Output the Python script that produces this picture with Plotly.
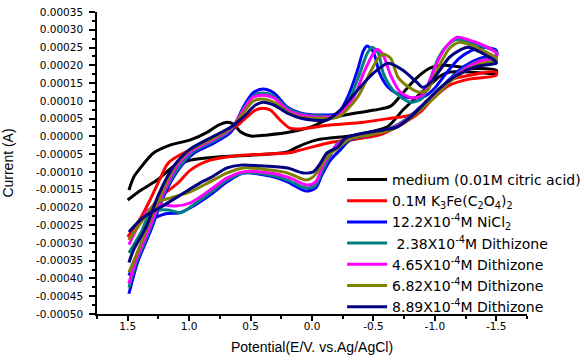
import plotly.graph_objects as go

# Potential (V) and current (in units of 1e-4 A), forward (up) and reverse (dn) sweeps
black_up_E = [1.49,1.45,1.39,1.29,1.15,0.99,0.85,0.76,0.69,0.64,0.58,0.50,0.36,0.18,-0.01,-0.15,-0.31,-0.51,-0.64,-0.74,-0.85,-0.96,-1.08,-1.28,-1.50]
black_up_I = [-1.51,-1.14,-0.86,-0.47,-0.24,-0.10,0.12,0.32,0.40,0.35,0.12,0.01,0.04,0.12,0.29,0.51,0.63,0.74,0.85,1.22,1.64,1.92,2.00,1.92,1.86]
black_dn_E = [-1.50,-1.28,-1.12,-1.04,-0.96,-0.85,-0.74,-0.61,-0.42,-0.31,-0.04,0.12,0.20,0.50,0.77,0.99,1.13,1.26,1.39,1.50]
black_dn_I = [1.78,1.81,1.81,1.69,1.44,1.10,0.74,0.26,0.09,0.01,-0.10,-0.30,-0.44,-0.53,-0.58,-0.67,-0.86,-1.23,-1.51,-1.79]

red_up_E = [1.50,1.39,1.31,1.23,1.17,1.03,0.83,0.66,0.54,0.46,0.40,0.34,0.26,0.18,0.10,-0.15,-0.42,-0.64,-0.80,-0.90,-1.02,-1.12,-1.28,-1.50]
red_up_I = [-2.83,-2.27,-1.73,-1.14,-0.75,-0.44,-0.19,0.15,0.51,0.74,0.79,0.74,0.46,0.23,0.21,0.32,0.40,0.51,0.60,0.82,1.24,1.58,1.72,1.81]
red_dn_E = [-1.50,-1.28,-1.12,-0.98,-0.88,-0.72,-0.55,-0.31,-0.17,0.09,0.20,0.58,0.83,0.99,1.09,1.23,1.35,1.49]
red_dn_I = [1.72,1.61,1.44,1.05,0.68,0.32,0.04,-0.10,-0.16,-0.38,-0.47,-0.53,-0.67,-0.95,-1.31,-1.70,-2.21,-2.91]

blue_up_E = [1.49,1.42,1.31,1.21,1.09,0.96,0.80,0.66,0.56,0.48,0.40,0.31,0.20,0.09,-0.07,-0.21,-0.29,-0.37,-0.42,-0.45,-0.50,-0.55,-0.62,-0.72,-0.82,-0.92,-1.00,-1.10,-1.20,-1.30,-1.38,-1.50]
blue_up_I = [-4.43,-3.55,-2.63,-1.70,-0.95,-0.47,-0.19,0.12,0.82,1.22,1.33,1.22,0.82,0.65,0.60,0.65,1.10,1.86,2.42,2.54,2.37,1.78,1.38,1.16,1.08,1.13,1.36,1.81,2.20,2.42,2.51,2.42]
blue_dn_E = [-1.50,-1.37,-1.24,-1.12,-1.00,-0.88,-0.76,-0.64,-0.47,-0.31,-0.23,-0.15,-0.08,-0.03,0.05,0.20,0.34,0.56,0.69,0.83,0.99,1.08,1.19,1.30,1.39,1.49]
blue_dn_I = [2.28,2.20,1.97,1.61,1.19,0.82,0.46,0.21,0.04,-0.10,-0.38,-0.67,-1.09,-1.45,-1.54,-1.28,-1.12,-1.03,-1.28,-1.65,-2.01,-2.15,-2.18,-2.35,-3.05,-3.92]

teal_up_E = [1.49,1.43,1.32,1.22,1.10,0.97,0.80,0.66,0.56,0.48,0.40,0.31,0.20,0.09,-0.07,-0.21,-0.31,-0.39,-0.45,-0.49,-0.54,-0.58,-0.66,-0.80,-0.90,-0.96,-1.02,-1.08,-1.18,-1.28,-1.41,-1.50]
teal_up_I = [-4.26,-3.55,-2.63,-1.70,-0.95,-0.44,-0.13,0.18,0.77,1.13,1.22,1.13,0.79,0.63,0.57,0.60,1.10,1.78,2.34,2.51,2.34,1.78,1.30,0.96,1.08,1.58,2.14,2.48,2.73,2.65,2.51,2.37]
teal_dn_E = [-1.50,-1.37,-1.24,-1.12,-1.00,-0.88,-0.76,-0.64,-0.47,-0.31,-0.21,-0.15,-0.08,-0.03,0.05,0.20,0.34,0.56,0.69,0.83,0.99,1.07,1.17,1.31,1.39,1.49]
teal_dn_I = [2.26,2.14,1.92,1.58,1.16,0.79,0.46,0.23,0.06,-0.05,-0.19,-0.53,-1.00,-1.37,-1.45,-1.23,-1.09,-1.03,-1.23,-1.59,-1.99,-2.15,-2.07,-2.13,-2.69,-3.28]

mag_up_E = [1.49,1.44,1.33,1.22,1.11,0.98,0.81,0.66,0.56,0.48,0.40,0.31,0.20,0.09,-0.07,-0.21,-0.34,-0.42,-0.49,-0.53,-0.58,-0.64,-0.72,-0.82,-0.90,-0.96,-1.02,-1.10,-1.18,-1.28,-1.41,-1.50]
mag_up_I = [-4.14,-3.55,-2.63,-1.68,-0.89,-0.41,-0.10,0.21,0.74,1.10,1.16,1.08,0.74,0.60,0.54,0.60,1.10,1.78,2.28,2.45,2.28,1.72,1.24,1.08,1.16,1.58,2.09,2.56,2.79,2.71,2.54,2.34]
mag_dn_E = [-1.50,-1.37,-1.24,-1.12,-1.00,-0.88,-0.76,-0.64,-0.47,-0.31,-0.21,-0.13,-0.08,-0.03,0.04,0.18,0.34,0.56,0.69,0.83,0.99,1.11,1.23,1.33,1.41,1.49]
mag_dn_I = [2.23,2.12,1.89,1.55,1.13,0.77,0.43,0.21,0.06,-0.05,-0.22,-0.58,-0.89,-1.28,-1.37,-1.17,-1.03,-1.00,-1.17,-1.51,-1.87,-1.96,-1.93,-2.07,-2.49,-3.05]

olive_up_E = [1.49,1.44,1.34,1.23,1.12,0.99,0.82,0.66,0.56,0.48,0.40,0.31,0.20,0.09,-0.07,-0.21,-0.37,-0.47,-0.54,-0.58,-0.64,-0.70,-0.80,-0.88,-0.94,-1.00,-1.06,-1.12,-1.20,-1.33,-1.50]
olive_up_I = [-3.83,-3.42,-2.55,-1.65,-0.86,-0.38,-0.08,0.23,0.65,0.99,1.05,0.96,0.68,0.54,0.51,0.54,1.10,1.78,2.20,2.31,2.20,1.67,1.36,1.24,1.30,1.72,2.14,2.48,2.65,2.51,2.20]
olive_dn_E = [-1.50,-1.37,-1.24,-1.12,-1.00,-0.88,-0.76,-0.64,-0.47,-0.31,-0.21,-0.12,-0.07,-0.01,0.05,0.20,0.34,0.56,0.69,0.83,0.99,1.15,1.27,1.39,1.49]
olive_dn_I = [2.14,2.03,1.83,1.53,1.10,0.74,0.40,0.18,0.04,-0.08,-0.33,-0.58,-0.86,-1.14,-1.23,-1.03,-0.95,-0.89,-1.03,-1.28,-1.56,-1.73,-1.87,-2.41,-2.91]

navy_up_E = [1.49,1.45,1.35,1.25,1.13,1.00,0.83,0.66,0.56,0.46,0.40,0.31,0.20,0.09,-0.12,-0.23,-0.37,-0.50,-0.62,-0.74,-0.85,-0.90,-0.96,-1.04,-1.12,-1.20,-1.27,-1.37,-1.50]
navy_up_I = [-3.55,-3.18,-2.55,-1.65,-0.86,-0.38,-0.05,0.26,0.54,0.88,0.96,0.88,0.65,0.51,0.46,0.74,1.30,1.78,2.06,1.86,1.53,1.38,1.50,1.86,2.23,2.42,2.51,2.37,2.09]
navy_dn_E = [-1.50,-1.34,-1.18,-1.04,-0.94,-0.82,-0.69,-0.58,-0.42,-0.27,-0.21,-0.12,-0.07,-0.01,0.07,0.20,0.42,0.58,0.69,0.83,0.91,1.07,1.23,1.37,1.49]
navy_dn_I = [2.06,1.97,1.72,1.36,1.02,0.60,0.26,0.18,0.09,-0.05,-0.30,-0.47,-0.75,-1.00,-1.03,-0.89,-0.83,-0.81,-0.89,-1.17,-1.31,-1.65,-1.99,-2.27,-2.69]

names = [
    "medium (0.01M citric acid)",
    "0.1M K<sub>3</sub>Fe(C<sub>2</sub>O<sub>4</sub>)<sub>2</sub>",
    "12.2X10<sup>-4</sup>M NiCl<sub>2</sub>",
    " 2.38X10<sup>-4</sup>M Dithizone",
    "4.65X10<sup>-4</sup>M Dithizone",
    "6.82X10<sup>-4</sup>M Dithizone",
    "8.89X10<sup>-4</sup>M Dithizone",
]
colors = ["#000000", "#FF0000", "#0000FF", "#008080", "#FF00FF", "#808000", "#000080"]
series = [
    (black_up_E, black_up_I, black_dn_E, black_dn_I),
    (red_up_E, red_up_I, red_dn_E, red_dn_I),
    (blue_up_E, blue_up_I, blue_dn_E, blue_dn_I),
    (teal_up_E, teal_up_I, teal_dn_E, teal_dn_I),
    (mag_up_E, mag_up_I, mag_dn_E, mag_dn_I),
    (olive_up_E, olive_up_I, olive_dn_E, olive_dn_I),
    (navy_up_E, navy_up_I, navy_dn_E, navy_dn_I),
]

y_ticks = [round(-0.0005 + 0.00005 * k, 6) for k in range(18)]
y_text = ["%.5f" % v if abs(v) > 1e-12 else "0.00000" for v in y_ticks]
x_ticks = [1.5, 1.0, 0.5, 0.0, -0.5, -1.0, -1.5]
x_text = ["1.5", "1.0", "0.5", "0.0", "-0.5", "-1.0", "-1.5"]

fig = go.Figure()
for k, ((ue, ui, de, di), name, col) in enumerate(zip(series, names, colors)):
    E = ue + de
    I = [v * 1e-4 for v in ui + di]
    fig.add_trace(go.Scatter(x=E, y=I, mode="lines", name=name, legendgroup="g%d" % k,
                             line=dict(color=col, width=3, shape="spline", smoothing=0.8)))

tickfont = dict(family="DejaVu Sans", size=10.5, color="black")
fig.update_layout(
    width=584, height=364,
    margin=dict(l=97, r=57, t=12, b=50, autoexpand=False),
    paper_bgcolor="white", plot_bgcolor="white",
    showlegend=True,
    legend=dict(x=0.570, y=0.497, xanchor="left", yanchor="top",
                font=dict(family="DejaVu Sans", size=14, color="black"),
                bgcolor="rgba(0,0,0,0)", itemwidth=40, tracegroupgap=0),
    xaxis=dict(range=[1.75, -1.75], tickvals=x_ticks, ticktext=x_text, automargin=False,
               showline=True, linecolor="black", linewidth=1.5, mirror=False,
               ticks="outside", ticklen=5, tickwidth=1.5, tickcolor="black",
               ticklabelstandoff=-3, ticklabeloverflow="allow",
               minor=dict(dtick=0.25, ticks="outside", ticklen=3, tickcolor="black", tickwidth=1.5),
               showgrid=False, zeroline=False, tickfont=tickfont,
               title=dict(text="Potential(E/V. vs.Ag/AgCl)",
                          font=dict(family="Liberation Sans", size=14, color="black"), standoff=11)),
    yaxis=dict(range=[-0.0005, 0.00035], tickvals=y_ticks, ticktext=y_text, automargin=False,
               showline=True, linecolor="black", linewidth=1.5,
               ticks="outside", ticklen=6, tickwidth=1.5, tickcolor="black",
               ticklabelstandoff=4, ticklabeloverflow="allow",
               minor=dict(dtick=0.000025, ticks="outside", ticklen=3, tickcolor="black", tickwidth=1.5),
               showgrid=False, zeroline=False, tickfont=tickfont,
               title=dict(text="Current (A)",
                          font=dict(family="Liberation Sans", size=14, color="black"), standoff=24)),
)
fig.write_html("out.html", config={"displayModeBar": False},
               post_script="document.body.style.margin='0px';")
